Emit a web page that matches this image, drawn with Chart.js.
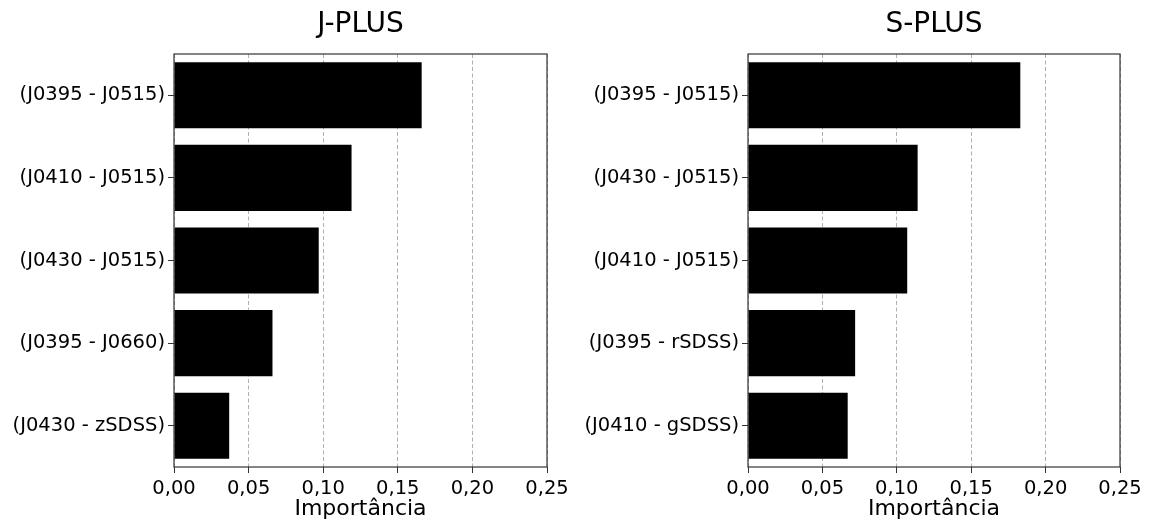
<!DOCTYPE html>
<html>
<head>
<meta charset="utf-8">
<script src="https://cdn.jsdelivr.net/npm/chart.js@4"></script>
<style>
  html, body { margin: 0; padding: 0; background: #fff; }
  #wrap { position: relative; width: 1149px; height: 522px; }
  .box { position: absolute; top: 0; height: 522px; }
  #boxJ { left: 0; width: 574px; }
  #boxS { left: 574px; width: 575px; }
</style>
</head>
<body>
<div id="wrap">
  <div class="box" id="boxJ"><canvas id="chartJ"></canvas></div>
  <div class="box" id="boxS"><canvas id="chartS"></canvas></div>
</div>
<script>
// data
const jplusLabels = ["(J0395 - J0515)", "(J0410 - J0515)", "(J0430 - J0515)", "(J0395 - J0660)", "(J0430 - zSDSS)"];
const jplusValues = [0.166, 0.119, 0.097, 0.066, 0.037];

const splusLabels = ["(J0395 - J0515)", "(J0430 - J0515)", "(J0410 - J0515)", "(J0395 - rSDSS)", "(J0410 - gSDSS)"];
const splusValues = [0.183, 0.114, 0.107, 0.072, 0.067];

const xMin = 0;
const xMax = 0.25;
const xStep = 0.05;
const xTitle = "Importância";

Chart.defaults.font.family = "'DejaVu Sans', sans-serif";
Chart.defaults.color = "#000";

// draw the full box round the plot, like matplotlib spines
const frame = {
  id: "frame",
  afterDraw(chart) {
    const a = chart.chartArea;
    const ctx = chart.ctx;
    ctx.save();
    ctx.strokeStyle = "#333";
    ctx.lineWidth = 1.2;
    ctx.strokeRect(a.left, a.top, a.right - a.left, a.bottom - a.top);
    ctx.restore();
  }
};

function makeChart(id, title, labels, values, rightPad) {
  const ctx = document.getElementById(id).getContext("2d");
  return new Chart(ctx, {
    type: "bar",
    data: {
      labels: labels,
      datasets: [
        {
          data: values,
          backgroundColor: "#000",
          borderColor: "#000",
          borderWidth: 0,
          barPercentage: 0.8,
          categoryPercentage: 1.0,
        },
      ],
    },
    options: {
      indexAxis: "y",
      responsive: true,
      maintainAspectRatio: false,
      animation: false,
      layout: { padding: { left: 0, right: rightPad, top: 0, bottom: 0 } },
      plugins: {
        legend: { display: false },
        tooltip: { enabled: false },
        title: {
          display: true,
          text: title,
          fullSize: false,
          color: "#000",
          font: { size: 28, weight: "normal" },
          padding: { top: 8, bottom: 12.4 },
        },
      },
      scales: {
        x: {
          min: xMin,
          max: xMax,
          afterFit: (s) => { s.height = 55; },
          afterBuildTicks: (s) => {
            const t = [];
            for (let i = 0; i <= Math.round((xMax - xMin) / xStep); i++) {
              t.push({ value: +(xMin + i * xStep).toFixed(2) });
            }
            s.ticks = t;
          },
          ticks: {
            color: "#000",
            font: { size: 19.5 },
            padding: 4,
            maxRotation: 0,
            callback: (v) => v.toFixed(2).replace(".", ","),
          },
          grid: {
            color: "#b0b0b0",
            lineWidth: 1,
            tickBorderDash: [],
            tickColor: "#333",
            tickLength: 6,
          },
          border: { display: false, dash: [4, 2.5] },
          title: {
            display: true,
            text: xTitle,
            color: "#000",
            font: { size: 22 },
            padding: { top: 0, bottom: 0 },
          },
        },
        y: {
          afterFit: (s) => { s.width = 174; },
          ticks: {
            color: "#000",
            font: { size: 19.5 },
            padding: 3,
          },
          grid: {
            offset: false,
            drawOnChartArea: false,
            tickColor: "#333",
            tickLength: 6,
          },
          border: { display: false },
        },
      },
    },
    plugins: [frame],
  });
}

makeChart("chartJ", "J-PLUS", jplusLabels, jplusValues, 27);
makeChart("chartS", "S-PLUS", splusLabels, splusValues, 29);
</script>
</body>
</html>
